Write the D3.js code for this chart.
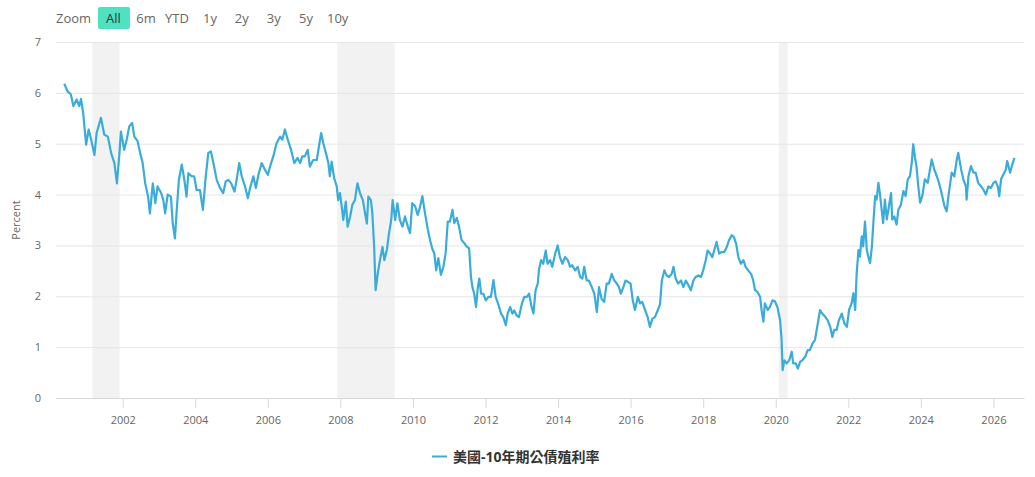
<!DOCTYPE html>
<html>
<head>
<meta charset="utf-8">
<script src="https://cdn.jsdelivr.net/npm/d3@7"></script>
<style>
  body { margin: 0; background: #fff; }
  text { font-family: "Open Sans", "Noto Sans CJK TC", sans-serif; }
</style>
</head>
<body>
<div id="chart"></div>
<script>
// US 10y treasury yield (decimal year, percent)
var years = [
  2000.39,2000.48,2000.57,2000.64,2000.73,2000.80,2000.85,2000.91,2000.99,2001.06,
  2001.13,2001.22,2001.28,2001.40,2001.49,2001.59,2001.68,2001.77,2001.84,2001.91,
  2001.95,2002.04,2002.11,2002.18,2002.26,2002.32,2002.41,2002.48,2002.55,2002.62,
  2002.70,2002.75,2002.83,2002.90,2002.96,2003.06,2003.12,2003.17,2003.24,2003.33,
  2003.38,2003.44,2003.49,2003.55,2003.63,2003.70,2003.76,2003.81,2003.90,2003.97,
  2004.04,2004.13,2004.21,2004.29,2004.36,2004.43,2004.50,2004.59,2004.68,2004.77,
  2004.84,2004.91,2004.99,2005.08,2005.14,2005.21,2005.28,2005.37,2005.45,2005.51,
  2005.60,2005.67,2005.74,2005.83,2005.92,2006.00,2006.09,2006.15,2006.24,2006.34,
  2006.40,2006.47,2006.55,2006.64,2006.73,2006.82,2006.89,2006.95,2007.02,2007.10,
  2007.16,2007.25,2007.35,2007.41,2007.47,2007.53,2007.60,2007.67,2007.71,2007.76,
  2007.83,2007.90,2007.94,2007.99,2008.04,2008.08,2008.15,2008.20,2008.27,2008.33,
  2008.40,2008.47,2008.54,2008.62,2008.68,2008.73,2008.77,2008.84,2008.88,2008.93,
  2008.97,2009.03,2009.09,2009.16,2009.21,2009.28,2009.34,2009.40,2009.44,2009.51,
  2009.57,2009.64,2009.71,2009.78,2009.86,2009.92,2009.98,2010.06,2010.13,2010.19,
  2010.26,2010.33,2010.41,2010.47,2010.53,2010.59,2010.64,2010.70,2010.77,2010.84,
  2010.90,2010.96,2011.02,2011.09,2011.14,2011.21,2011.27,2011.34,2011.42,2011.48,
  2011.55,2011.60,2011.64,2011.69,2011.74,2011.79,2011.83,2011.88,2011.94,2012.01,
  2012.08,2012.15,2012.22,2012.28,2012.35,2012.43,2012.49,2012.56,2012.61,2012.68,
  2012.74,2012.79,2012.86,2012.92,2013.00,2013.07,2013.14,2013.20,2013.27,2013.32,
  2013.38,2013.44,2013.47,2013.53,2013.59,2013.66,2013.71,2013.78,2013.84,2013.92,
  2013.99,2014.05,2014.12,2014.19,2014.27,2014.33,2014.39,2014.47,2014.54,2014.61,
  2014.67,2014.72,2014.79,2014.85,2014.93,2015.00,2015.07,2015.13,2015.20,2015.27,
  2015.34,2015.40,2015.48,2015.55,2015.62,2015.68,2015.73,2015.80,2015.86,2015.94,
  2016.00,2016.06,2016.12,2016.20,2016.26,2016.32,2016.40,2016.47,2016.53,2016.60,
  2016.67,2016.75,2016.81,2016.86,2016.93,2016.99,2017.06,2017.13,2017.18,2017.24,
  2017.31,2017.39,2017.45,2017.52,2017.59,2017.66,2017.73,2017.79,2017.87,2017.94,
  2018.00,2018.07,2018.12,2018.19,2018.25,2018.33,2018.37,2018.44,2018.51,2018.58,
  2018.65,2018.71,2018.79,2018.85,2018.91,2018.97,2019.04,2019.11,2019.17,2019.24,
  2019.32,2019.38,2019.43,2019.50,2019.57,2019.61,2019.66,2019.70,2019.78,2019.84,
  2019.91,2019.98,2020.05,2020.12,2020.16,2020.19,2020.24,2020.30,2020.37,2020.44,
  2020.48,2020.55,2020.61,2020.67,2020.73,2020.81,2020.88,2020.94,2021.01,2021.08,
  2021.16,2021.22,2021.28,2021.36,2021.43,2021.50,2021.56,2021.61,2021.68,2021.74,
  2021.82,2021.89,2021.96,2022.02,2022.09,2022.14,2022.19,2022.23,2022.28,2022.32,
  2022.37,2022.41,2022.46,2022.51,2022.55,2022.60,2022.65,2022.69,2022.74,2022.78,
  2022.83,2022.87,2022.92,2022.96,2023.01,2023.06,2023.12,2023.18,2023.21,2023.27,
  2023.33,2023.38,2023.45,2023.52,2023.58,2023.64,2023.70,2023.75,2023.79,2023.84,
  2023.88,2023.93,2023.98,2024.04,2024.11,2024.19,2024.25,2024.30,2024.37,2024.44,
  2024.50,2024.57,2024.65,2024.71,2024.77,2024.85,2024.92,2024.99,2025.03,2025.11,
  2025.17,2025.24,2025.26,2025.31,2025.38,2025.45,2025.51,2025.58,2025.66,2025.72,
  2025.79,2025.86,2025.93,2026.00,2026.06,2026.12,2026.16,2026.21,2026.27,2026.34,
  2026.38,2026.46,2026.52,2026.58
];
var yields = [
  6.18,6.03,5.97,5.74,5.87,5.74,5.88,5.60,4.98,5.28,
  5.08,4.78,5.21,5.51,5.18,5.14,4.82,4.62,4.22,4.82,
  5.24,4.88,5.08,5.34,5.41,5.14,5.05,4.82,4.62,4.22,
  3.96,3.63,4.22,3.83,4.16,4.03,3.89,3.63,4.00,3.96,
  3.43,3.14,3.70,4.29,4.59,4.29,3.96,4.42,4.36,4.36,
  4.09,4.09,3.70,4.36,4.82,4.85,4.62,4.29,4.13,4.03,
  4.26,4.29,4.22,4.06,4.29,4.62,4.36,4.16,3.93,4.13,
  4.36,4.13,4.39,4.62,4.49,4.39,4.62,4.75,5.01,5.14,
  5.08,5.28,5.08,4.88,4.62,4.72,4.62,4.75,4.75,4.88,
  4.55,4.68,4.68,4.95,5.21,5.01,4.82,4.62,4.36,4.65,
  4.32,4.16,3.89,4.03,3.76,3.50,3.86,3.37,3.57,3.80,
  3.89,4.22,4.03,3.89,3.63,3.43,3.96,3.89,3.63,2.97,
  2.12,2.45,2.71,2.97,2.71,2.91,3.24,3.50,3.89,3.50,
  3.83,3.50,3.37,3.57,3.37,3.24,3.83,3.77,3.60,3.74,
  3.97,3.64,3.31,3.11,2.94,2.84,2.51,2.75,2.42,2.58,
  2.84,3.47,3.47,3.70,3.44,3.54,3.37,3.11,3.04,2.98,
  2.94,2.38,2.18,2.05,1.79,2.18,2.35,2.05,2.05,1.92,
  1.99,1.99,2.32,1.99,1.85,1.66,1.59,1.43,1.66,1.79,
  1.66,1.72,1.62,1.59,1.85,1.99,1.99,2.05,1.79,1.66,
  2.12,2.25,2.51,2.71,2.64,2.90,2.64,2.71,2.58,2.84,
  3.00,2.77,2.64,2.77,2.71,2.58,2.61,2.51,2.58,2.38,
  2.35,2.58,2.31,2.31,2.18,2.05,1.69,2.18,1.95,1.89,
  2.25,2.25,2.44,2.31,2.25,2.18,2.05,2.18,2.31,2.28,
  2.25,1.92,1.73,1.99,1.86,1.89,1.73,1.59,1.40,1.56,
  1.59,1.73,1.84,2.31,2.51,2.41,2.38,2.44,2.58,2.35,
  2.25,2.31,2.18,2.31,2.22,2.12,2.31,2.38,2.41,2.38,
  2.51,2.71,2.90,2.84,2.77,2.97,3.07,2.84,2.87,2.87,
  2.97,3.10,3.20,3.16,3.03,2.77,2.64,2.71,2.58,2.51,
  2.44,2.31,2.12,2.08,1.99,1.73,1.50,1.86,1.73,1.79,
  1.92,1.90,1.78,1.53,1.17,0.55,0.74,0.68,0.74,0.91,
  0.68,0.68,0.58,0.71,0.74,0.81,0.94,0.94,1.07,1.14,
  1.47,1.73,1.66,1.60,1.53,1.40,1.20,1.34,1.34,1.53,
  1.66,1.47,1.40,1.73,1.86,2.06,1.73,2.45,2.91,2.78,
  3.18,2.98,3.47,2.91,2.78,2.65,2.98,3.44,3.97,3.90,
  4.23,4.03,3.70,3.44,3.90,3.51,3.77,4.03,3.51,3.57,
  3.41,3.70,3.80,4.07,3.97,4.30,4.36,4.63,4.99,4.72,
  4.56,4.16,3.84,3.97,4.30,4.23,4.49,4.69,4.49,4.36,
  4.23,4.03,3.77,3.67,4.03,4.43,4.36,4.69,4.82,4.49,
  4.30,4.16,3.90,4.36,4.56,4.43,4.43,4.23,4.16,4.10,
  4.00,4.16,4.13,4.23,4.26,4.16,3.97,4.30,4.39,4.49,
  4.66,4.43,4.59,4.72
];
// recession shading
var bandStarts = ['2001-03-01', '2007-12-01', '2020-02-01'];
var bandEnds   = ['2001-11-30', '2009-06-30', '2020-04-30'];
var tickYears = [2002, 2004, 2006, 2008, 2010, 2012, 2014, 2016, 2018, 2020, 2022, 2024, 2026];
var yTicks = [0, 1, 2, 3, 4, 5, 6, 7];
var buttons = ['All', '6m', 'YTD', '1y', '2y', '3y', '5y', '10y'];
var seriesName = '美國-10年期公債殖利率';

var w = 1035, h = 477;
// note: "top" is taken by window.top, so the plot box gets its own names
var plotL = 56, plotR = 1024, plotT = 42, plotB = 398;
var lineColor = '#3aacd9';
var parseDay = d3.timeParse('%Y-%m-%d');

function toDate(t) {
  var yr = Math.floor(t);
  var a = new Date(yr, 0, 1), b = new Date(yr + 1, 0, 1);
  return new Date(+a + (t - yr) * (b - a));
}

var data = years.map(function(t, i) { return { date: toDate(t), value: yields[i] }; });

var x = d3.scaleTime()
  .domain([toDate(2000.162), toDate(2026.843)])
  .range([plotL, plotR]);
var y = d3.scaleLinear().domain([0, 7]).range([plotB, plotT]);

var svg = d3.select('#chart').append('svg')
  .attr('width', w)
  .attr('height', h);

// bands
svg.append('g').selectAll('rect')
  .data(bandStarts)
  .enter().append('rect')
  .attr('x', function(d) { return x(parseDay(d)); })
  .attr('width', function(d, i) { return x(parseDay(bandEnds[i])) - x(parseDay(d)); })
  .attr('y', plotT)
  .attr('height', plotB - plotT)
  .attr('fill', '#f2f2f2');

// grid + y labels
var yAxis = svg.append('g')
  .attr('transform', 'translate(' + plotL + ',0)')
  .call(d3.axisLeft(y).tickValues(yTicks).tickFormat(d3.format('d'))
    .tickSize(-(plotR - plotL)).tickPadding(15));
yAxis.select('.domain').remove();
yAxis.selectAll('.tick line').attr('stroke', '#e6e6e6');
yAxis.selectAll('.tick text')
  .attr('fill', '#666')
  .style('font-size', '11px');

// x axis
var xAxis = svg.append('g')
  .attr('transform', 'translate(0,' + plotB + ')')
  .call(d3.axisBottom(x)
    .tickValues(tickYears.map(function(d) { return new Date(d, 0, 1); }))
    .tickFormat(d3.timeFormat('%Y'))
    .tickSize(10)
    .tickPadding(8)
    .tickSizeOuter(0));
xAxis.select('.domain').attr('stroke', '#d8d8d8');
xAxis.selectAll('.tick line').attr('stroke', '#d8d8d8');
xAxis.selectAll('.tick text')
  .attr('fill', '#666')
  .style('font-size', '11px');

// y title
svg.append('text')
  .attr('transform', 'translate(20,' + ((plotT + plotB) / 2) + ') rotate(-90)')
  .attr('text-anchor', 'middle')
  .attr('fill', '#666')
  .style('font-size', '11px')
  .text('Percent');

// line
var line = d3.line()
  .x(function(d) { return x(d.date); })
  .y(function(d) { return y(d.value); });

svg.append('path')
  .datum(data)
  .attr('fill', 'none')
  .attr('stroke', lineColor)
  .attr('stroke-width', 2.2)
  .attr('stroke-linejoin', 'round')
  .attr('d', line);

// range selector
var sel = svg.append('g');
sel.append('text')
  .attr('x', 73.5).attr('y', 23)
  .attr('text-anchor', 'middle')
  .attr('fill', '#666')
  .style('font-size', '13px')
  .text('Zoom');
var btnX = [113.5, 146, 177, 210, 241.8, 273.8, 306, 337.7];
sel.append('rect')
  .attr('x', 98).attr('y', 7).attr('width', 32).attr('height', 22)
  .attr('rx', 2)
  .attr('fill', '#4ee2c0');
sel.selectAll('.btn')
  .data(buttons)
  .enter().append('text')
  .attr('class', 'btn')
  .attr('x', function(d, i) { return btnX[i]; })
  .attr('y', 23)
  .attr('text-anchor', 'middle')
  .attr('fill', function(d, i) { return i === 0 ? '#333' : '#666'; })
  .style('font-size', '13px')
  .text(function(d) { return d; });

// legend
var lg = svg.append('g');
lg.append('line')
  .attr('x1', 432).attr('x2', 447)
  .attr('y1', 456.5).attr('y2', 456.5)
  .attr('stroke', lineColor)
  .attr('stroke-width', 2);
lg.append('text')
  .attr('x', 453).attr('y', 461.5)
  .attr('fill', '#333')
  .style('font-size', '14px')
  .style('font-weight', 'bold')
  .text(seriesName);
</script>
</body>
</html>
